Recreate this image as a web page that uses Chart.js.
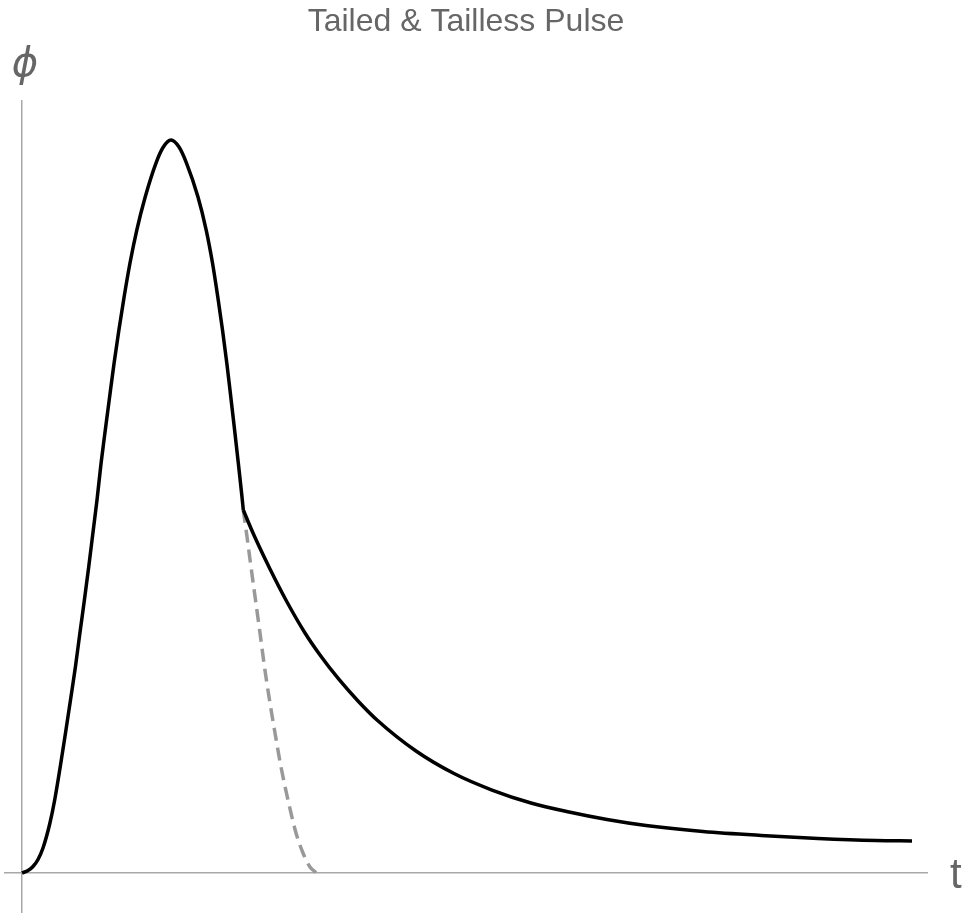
<!DOCTYPE html>
<html>
<head>
<meta charset="utf-8">
<title>Tailed & Tailless Pulse</title>
<script src="https://cdn.jsdelivr.net/npm/chart.js@4"></script>
<style>
  body { margin: 0; background: #fff; }
</style>
</head>
<body>
<canvas id="pulseChart" width="964" height="913"></canvas>
<script>
// main pulse (solid): rise from 0, peak, fall down to the junction
const pulseT = [0, 0.04, 0.0733, 0.1067, 0.14, 0.1847, 0.218, 0.2547, 0.29, 0.3233, 0.356, 0.386, 0.416, 0.4447,
  0.4727, 0.5, 0.5273, 0.5553, 0.584, 0.614, 0.646, 0.6807, 0.72, 0.7653, 0.8213, 0.8933, 0.94, 0.9933,
  1.0467, 1.0967, 1.1733, 1.228, 1.27, 1.3053, 1.3367, 1.3653, 1.392, 1.4173, 1.442, 1.4667, 1.4753];
const pulsePhi = [0, 0.0034, 0.0089, 0.0184, 0.0341, 0.0668, 0.0996, 0.1446, 0.191, 0.236, 0.281, 0.3274, 0.3724, 0.4175,
  0.4638, 0.5089, 0.5593, 0.6044, 0.6494, 0.6958, 0.7408, 0.7858, 0.8322, 0.8772, 0.9223, 0.9686, 0.9898, 1.0,
  0.9904, 0.9686, 0.9223, 0.8772, 0.8322, 0.7858, 0.7408, 0.6958, 0.6494, 0.6044, 0.5593, 0.513, 0.4952];

// tail (solid) after the junction
const tailT = [1.4753, 1.54, 1.6533, 1.7667, 1.8867, 1.9867, 2.1133, 2.24, 2.3667, 2.6267, 2.88, 3.1333,
  3.3933, 3.6467, 3.9, 4.16, 4.54, 4.9267, 5.3067, 5.6933, 5.9333];
const tailPhi = [0.4952, 0.4638, 0.4147, 0.3697, 0.3274, 0.2974, 0.2640, 0.2347, 0.2087, 0.1664, 0.1357, 0.1132,
  0.0955, 0.0832, 0.073, 0.0648, 0.0566, 0.0512, 0.0471, 0.0443, 0.0437];

// tailless continuation (dashed)
const dashT = [1.4753, 1.4967, 1.5267, 1.5567, 1.5867, 1.6167, 1.65, 1.6867, 1.7267, 1.7733, 1.8267, 1.8733, 1.92, 1.96];
const dashPhi = [0.4952, 0.4638, 0.4175, 0.3724, 0.3274, 0.281, 0.236, 0.191, 0.1446, 0.0996, 0.0546, 0.0273, 0.0082, 0.0007];

const toPoints = (xs, ys) => xs.map((x, i) => ({ x: x, y: ys[i] }));

const axisColor = '#a8a8a8';
const textColor = '#666666';

// title and axis labels
const labelsPlugin = {
  id: 'labels',
  afterDraw(chart) {
    const c = chart.ctx;
    c.save();
    c.fillStyle = textColor;
    c.textBaseline = 'alphabetic';

    c.font = '32px "Liberation Sans", Arial, sans-serif';
    c.textAlign = 'center';
    c.fillText('Tailed & Tailless Pulse', 466, 31);

    c.font = 'italic 40px "DejaVu Sans", sans-serif';
    c.textAlign = 'center';
    c.fillText('\u03D5', 25, 76);

    c.font = '42px "Liberation Sans", Arial, sans-serif';
    c.textAlign = 'left';
    c.fillText('t', 950, 888);
    c.restore();
  }
};

// only the zero grid lines are visible: they act as the axes
const zeroLine = ctx => (ctx.tick && ctx.tick.value === 0) ? axisColor : 'rgba(0,0,0,0)';

const solidStyle = {
  borderColor: '#000000',
  borderWidth: 3.5,
  pointRadius: 0,
  cubicInterpolationMode: 'monotone',
  fill: false
};

const ctx = document.getElementById('pulseChart').getContext('2d');
const pulseChart = new Chart(ctx, {
  type: 'line',
  data: {
    datasets: [
      Object.assign({ label: 'Tailed', data: toPoints(pulseT, pulsePhi) }, solidStyle),
      Object.assign({ label: 'Tail', data: toPoints(tailT, tailPhi) }, solidStyle),
      {
        label: 'Tailless',
        data: toPoints(dashT, dashPhi),
        borderColor: '#999999',
        borderWidth: 3.5,
        borderDash: [13, 7],
        pointRadius: 0,
        cubicInterpolationMode: 'monotone',
        fill: false
      }
    ]
  },
  options: {
    responsive: false,
    animation: false,
    layout: { padding: { left: 4, right: 36, top: 100, bottom: 0 } },
    plugins: {
      legend: { display: false },
      title: { display: false },
      tooltip: { enabled: false }
    },
    scales: {
      x: {
        type: 'linear',
        min: -0.12,
        max: 6.04,
        ticks: { display: false, stepSize: 1, includeBounds: false },
        border: { display: false },
        grid: { color: zeroLine, lineWidth: 1.5, drawTicks: false }
      },
      y: {
        type: 'linear',
        min: -0.0546,
        max: 1.0546,
        ticks: { display: false, stepSize: 0.5, includeBounds: false },
        border: { display: false },
        grid: { color: zeroLine, lineWidth: 1.5, drawTicks: false }
      }
    }
  },
  plugins: [labelsPlugin]
});
</script>
</body>
</html>
